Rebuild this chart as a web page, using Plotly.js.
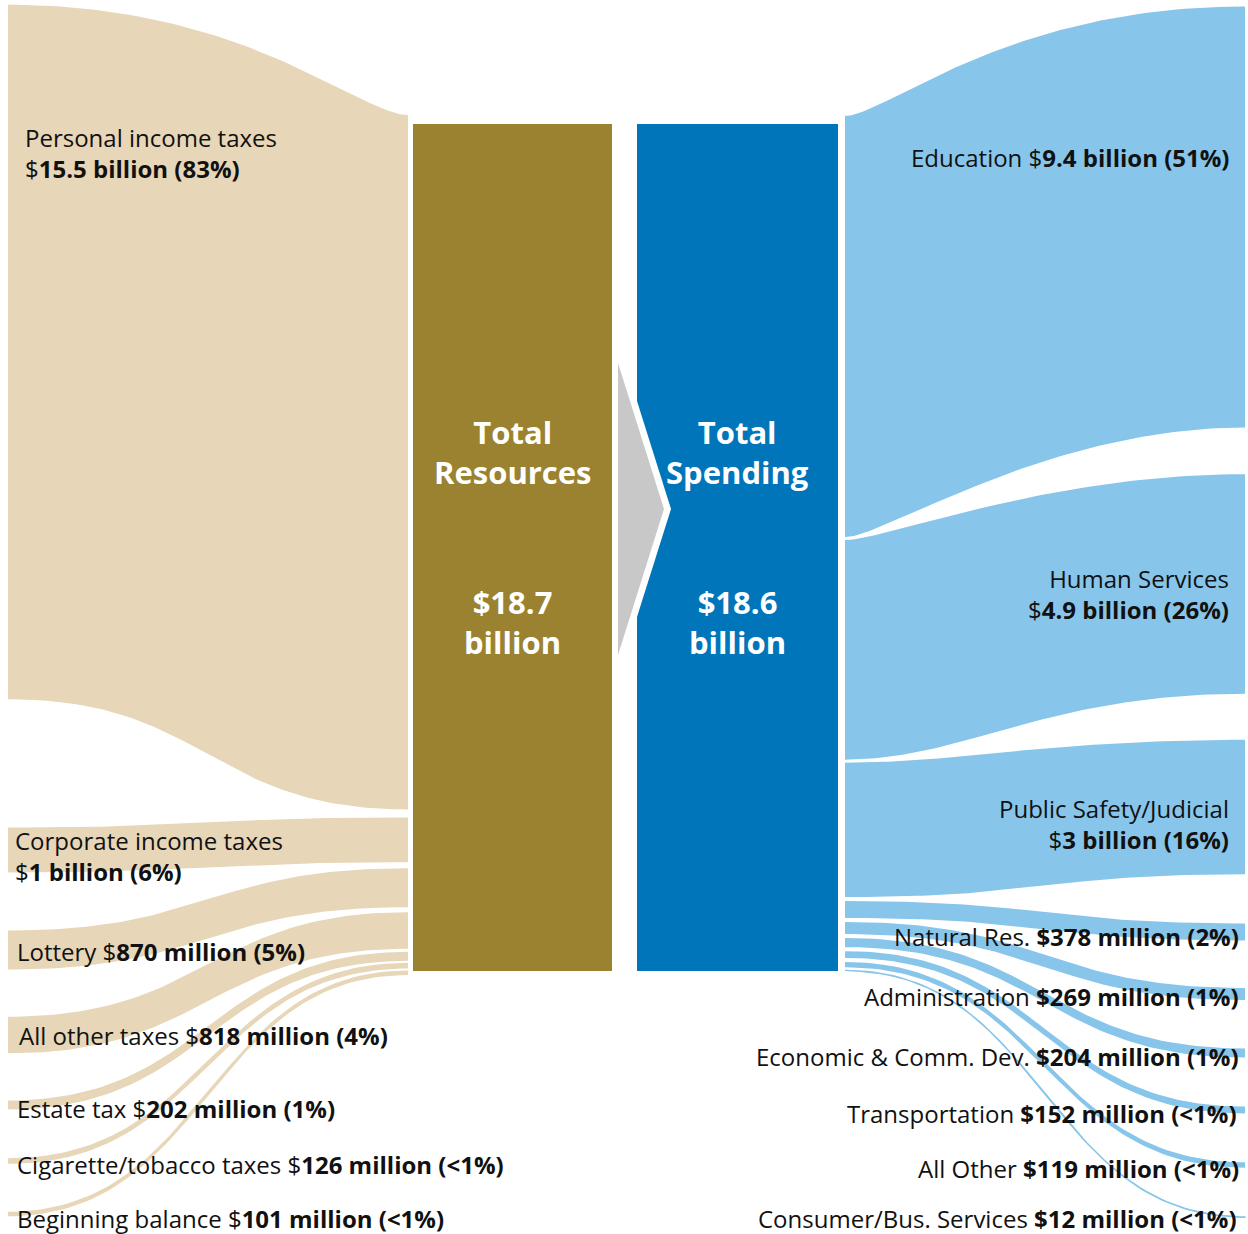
<!DOCTYPE html>
<html><head><meta charset="utf-8">
<script src="https://cdn.plot.ly/plotly-3.0.1.min.js"></script>
<style>html,body{margin:0;padding:0;background:#fff}#chart{width:1248px;height:1234px}</style>
</head><body><div id="chart"></div>
<script>
// ---------------- data ----------------
const revenueNames = ['Personal income taxes','Corporate income taxes','Lottery','All other taxes','Estate tax','Cigarette/tobacco taxes','Beginning balance'];
const revenueValues = [15.5, 1.0, 0.870, 0.818, 0.202, 0.126, 0.101]; // $ billions
const revenueAmounts = ['15.5 billion','1 billion','870 million','818 million','202 million','126 million','101 million'];
const revenueShares = ['83%','6%','5%','4%','1%','<1%','<1%'];

const spendingNames = ['Education','Human Services','Public Safety/Judicial','Natural Res.','Administration','Economic & Comm. Dev.','Transportation','All Other','Consumer/Bus. Services'];
const spendingValues = [9.4, 4.9, 3.0, 0.378, 0.269, 0.204, 0.152, 0.119, 0.012]; // $ billions
const spendingAmounts = ['9.4 billion','4.9 billion','3 billion','378 million','269 million','204 million','152 million','119 million','12 million'];
const spendingShares = ['51%','26%','16%','2%','1%','1%','<1%','<1%','<1%'];

const totalNames = ['Total<br>Resources','Total<br>Spending'];
const totalValues = [18.7, 18.6]; // $ billions

// ---------------- layout / style ----------------
const SCALE = 44.8;                // px per $ billion
const TAN = '#E7D6B7', OLIVE = '#9B8230', BLUE = '#0075BA', LIGHT = '#88C5EA', GRAY = '#C8C8C8';
const FONT = 'Open Sans, Noto Sans, sans-serif';

// left (revenue) flows
const L_OUT = 8, L_IN = 408, L_IN_TOP = 115;
const revGaps = [0, 8, 6, 5, 3, 2, 2];
const revOuterCenters = [352, 850, 950, 1035, 1105, 1161, 1214];
const revTopCurve = [[0.12,0.6],[0.5,0.5],[0.5,0.5],[0.5,0.5],[0.5,0.5],[0.5,0.5],[0.5,0.5]];
const revLabelPos = [[24,153,true],[14,856,true],[16,951,false],[18,1035,false],[16,1108,false],[16,1164,false],[16,1218,false]];

// right (spending) flows
const R_IN = 845, R_OUT = 1245, R_IN_TOP = 116;
const spGaps = [0, 3, 3, 4, 4, 4, 4, 4, 3];
const spOuterCenters = [217, 584, 807, 932, 994, 1053, 1110, 1165, 1217];
const spTopCurve = [[0.1,0.6],[0.1,0.5],[0.3,0.5],[0.5,0.5],[0.5,0.5],[0.5,0.5],[0.5,0.5],[0.5,0.5],[0.5,0.5]];
const spBotCurve = [[0.1,0.5],[0.3,0.5],[0.5,0.5],[0.5,0.5],[0.5,0.5],[0.5,0.5],[0.5,0.5],[0.5,0.5],[0.5,0.5]];
const spLabelPos = [[1231,157,false],[1230,594,true],[1230,824,true],[1240,936,false],[1240,996,false],[1240,1056,false],[1238,1113,false],[1240,1168,false],[1238,1218,false]];

const BAR_TOP = 124, BAR_BOT = 971;
const BARS = [[413, 612, OLIVE], [637, 838, BLUE]];

// ---------------- geometry helpers ----------------
function edge(xIn, yIn, xOut, yOut, fc, fo, n) {
  const dx = xOut - xIn;
  const p = [[xIn, yIn], [xIn + fc*dx, yIn], [xOut - fo*dx, yOut], [xOut, yOut]];
  const xs = [], ys = [];
  for (let i = 0; i <= n; i++) {
    const t = i / n, u = 1 - t;
    const b0 = u*u*u, b1 = 3*u*u*t, b2 = 3*u*t*t, b3 = t*t*t;
    xs.push(b0*p[0][0] + b1*p[1][0] + b2*p[2][0] + b3*p[3][0]);
    ys.push(b0*p[0][1] + b1*p[1][1] + b2*p[2][1] + b3*p[3][1]);
  }
  return [xs, ys];
}
function band(xIn, inTop, inBot, xOut, outTop, outBot, topC, botC, color) {
  const [tx, ty] = edge(xIn, inTop, xOut, outTop, topC[0], topC[1], 80);
  const [bx, by] = edge(xIn, inBot, xOut, outBot, botC[0], botC[1], 80);
  const x = tx.concat(bx.slice().reverse()); x.push(tx[0]);
  const y = ty.concat(by.slice().reverse()); y.push(ty[0]);
  const thin = (inBot - inTop) < 2;
  return {type: 'scatter', mode: 'lines', x, y, fill: 'toself', fillcolor: color,
          line: {width: thin ? 1.2 : 0, color: color}, hoverinfo: 'skip', showlegend: false};
}

const traces = [];
const annotations = [];

// revenue flows
let yIn = L_IN_TOP;
revenueValues.forEach((v, i) => {
  yIn += revGaps[i];
  const w = v * SCALE;
  const oc = revOuterCenters[i];
  traces.push(band(L_IN, yIn, yIn + w, L_OUT, oc - w/2, oc + w/2, revTopCurve[i], [0.5,0.5], TAN));
  yIn += w;
  const [lx, ly, br] = revLabelPos[i];
  annotations.push({x: lx, y: ly, xref: 'x', yref: 'y', xanchor: 'left', yanchor: 'middle', align: 'left',
    showarrow: false, borderpad: 0,
    text: revenueNames[i] + (br ? '<br>' : ' ') + '$<b>' + revenueAmounts[i] + ' (' + revenueShares[i] + ')</b>',
    font: {family: FONT, size: 24, color: '#111'}});
});

// spending flows
yIn = R_IN_TOP;
spendingValues.forEach((v, i) => {
  yIn += spGaps[i];
  const w = v * SCALE;
  const oc = spOuterCenters[i];
  traces.push(band(R_IN, yIn, yIn + w, R_OUT, oc - w/2, oc + w/2, spTopCurve[i], spBotCurve[i], LIGHT));
  yIn += w;
  const [lx, ly, br] = spLabelPos[i];
  const money = i < 3 ? '$<b>' + spendingAmounts[i] : '<b>$' + spendingAmounts[i];
  annotations.push({x: lx, y: ly, xref: 'x', yref: 'y', xanchor: 'right', yanchor: 'middle', align: 'right',
    showarrow: false, borderpad: 0,
    text: spendingNames[i] + (br ? '<br>' : ' ') + money + ' (' + spendingShares[i] + ')</b>',
    font: {family: FONT, size: 24, color: '#111'}});
});

// total bars and the arrow between them
const shapes = BARS.map(b => ({type: 'rect', xref: 'x', yref: 'y', x0: b[0], x1: b[1], y0: BAR_TOP, y1: BAR_BOT,
  fillcolor: b[2], line: {width: 0}, layer: 'above'}));
shapes.push({type: 'path', xref: 'x', yref: 'y', path: 'M618,363 L625,363 L671,509 L625,655 L618,655 Z',
  fillcolor: '#ffffff', line: {width: 0}, layer: 'above'});
shapes.push({type: 'path', xref: 'x', yref: 'y', path: 'M618,363 L664,509 L618,655 Z',
  fillcolor: GRAY, line: {width: 0}, layer: 'above'});

BARS.forEach((b, i) => {
  const cx = (b[0] + b[1]) / 2;
  annotations.push({x: cx, y: 452, xref: 'x', yref: 'y', xanchor: 'center', yanchor: 'middle', align: 'center',
    showarrow: false, borderpad: 0, text: '<b>' + totalNames[i] + '</b>',
    font: {family: FONT, size: 31, color: '#ffffff'}});
  annotations.push({x: cx, y: 622, xref: 'x', yref: 'y', xanchor: 'center', yanchor: 'middle', align: 'center',
    showarrow: false, borderpad: 0, text: '<b>$' + totalValues[i] + '<br>billion</b>',
    font: {family: FONT, size: 31, color: '#ffffff'}});
});

const layout = {
  width: 1248, height: 1234,
  margin: {l: 0, r: 0, t: 0, b: 0, pad: 0},
  paper_bgcolor: '#ffffff', plot_bgcolor: '#ffffff',
  xaxis: {range: [0, 1248], visible: false, fixedrange: true},
  yaxis: {range: [1234, 0], visible: false, fixedrange: true},
  showlegend: false,
  shapes, annotations
};
Plotly.newPlot('chart', traces, layout, {staticPlot: true, displayModeBar: false});
</script></body></html>
